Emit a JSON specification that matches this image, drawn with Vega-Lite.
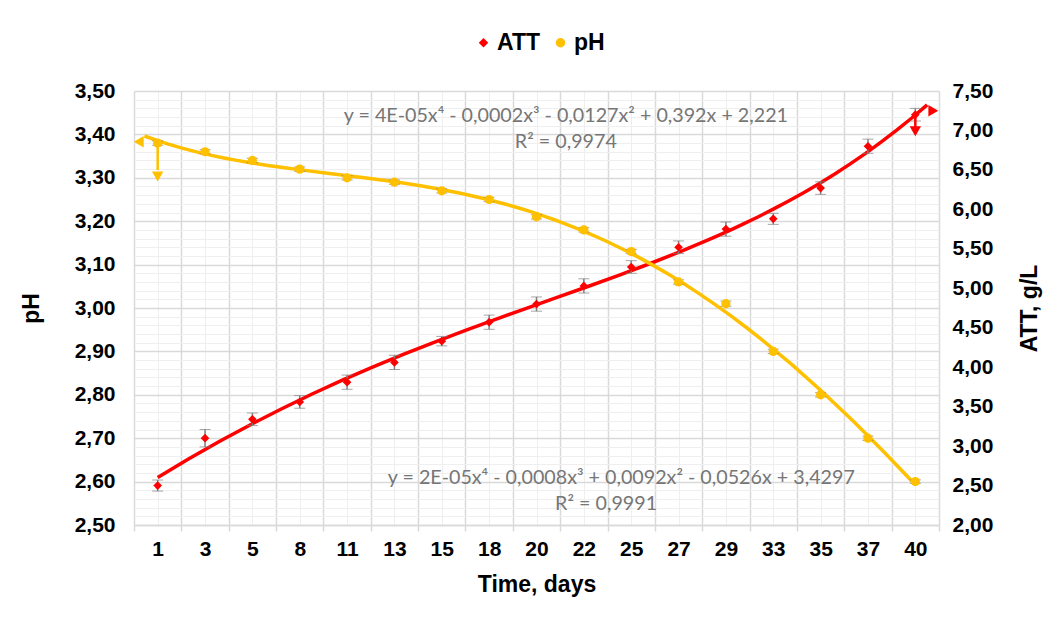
{
  "$schema": "https://vega.github.io/schema/vega-lite/v6.json",
  "width": 805,
  "height": 434,
  "autosize": {"type": "none"},
  "padding": {"left": 134, "top": 91, "right": 117, "bottom": 98},
  "background": "white",
  "config": {"view": {"stroke": null}, "font": "Liberation Sans"},
  "datasets": {
    "obs": [
      {"i": 1, "day": "1", "s": "ATT", "v": 2.50, "e": 0.07},
      {"i": 2, "day": "3", "s": "ATT", "v": 3.10, "e": 0.11},
      {"i": 3, "day": "5", "s": "ATT", "v": 3.34, "e": 0.08},
      {"i": 4, "day": "8", "s": "ATT", "v": 3.56, "e": 0.08},
      {"i": 5, "day": "11", "s": "ATT", "v": 3.81, "e": 0.09},
      {"i": 6, "day": "13", "s": "ATT", "v": 4.06, "e": 0.09},
      {"i": 7, "day": "15", "s": "ATT", "v": 4.33, "e": 0.06},
      {"i": 8, "day": "18", "s": "ATT", "v": 4.57, "e": 0.09},
      {"i": 9, "day": "20", "s": "ATT", "v": 4.80, "e": 0.09},
      {"i": 10, "day": "22", "s": "ATT", "v": 5.03, "e": 0.09},
      {"i": 11, "day": "25", "s": "ATT", "v": 5.27, "e": 0.08},
      {"i": 12, "day": "27", "s": "ATT", "v": 5.52, "e": 0.08},
      {"i": 13, "day": "29", "s": "ATT", "v": 5.75, "e": 0.09},
      {"i": 14, "day": "33", "s": "ATT", "v": 5.88, "e": 0.07},
      {"i": 15, "day": "35", "s": "ATT", "v": 6.27, "e": 0.08},
      {"i": 16, "day": "37", "s": "ATT", "v": 6.80, "e": 0.09},
      {"i": 17, "day": "40", "s": "ATT", "v": 7.20, "e": 0.08},
      {"i": 1, "day": "1", "s": "pH", "v": 3.38, "e": 0.005},
      {"i": 2, "day": "3", "s": "pH", "v": 3.36, "e": 0.005},
      {"i": 3, "day": "5", "s": "pH", "v": 3.34, "e": 0.005},
      {"i": 4, "day": "8", "s": "pH", "v": 3.32, "e": 0.005},
      {"i": 5, "day": "11", "s": "pH", "v": 3.30, "e": 0.005},
      {"i": 6, "day": "13", "s": "pH", "v": 3.29, "e": 0.005},
      {"i": 7, "day": "15", "s": "pH", "v": 3.27, "e": 0.005},
      {"i": 8, "day": "18", "s": "pH", "v": 3.25, "e": 0.005},
      {"i": 9, "day": "20", "s": "pH", "v": 3.21, "e": 0.005},
      {"i": 10, "day": "22", "s": "pH", "v": 3.18, "e": 0.005},
      {"i": 11, "day": "25", "s": "pH", "v": 3.13, "e": 0.005},
      {"i": 12, "day": "27", "s": "pH", "v": 3.06, "e": 0.005},
      {"i": 13, "day": "29", "s": "pH", "v": 3.01, "e": 0.006},
      {"i": 14, "day": "33", "s": "pH", "v": 2.90, "e": 0.005},
      {"i": 15, "day": "35", "s": "pH", "v": 2.80, "e": 0.005},
      {"i": 16, "day": "37", "s": "pH", "v": 2.70, "e": 0.005},
      {"i": 17, "day": "40", "s": "pH", "v": 2.60, "e": 0.004}
    ],
    "arrows": [
      {"g": "ATT", "k": "stem", "i": 17, "v": 7.2, "v2": 7.04},
      {"g": "ATT", "k": "down", "i": 17, "v": 6.99},
      {"g": "ATT", "k": "side", "i": 17.38, "v": 7.25},
      {"g": "pH", "k": "stem", "i": 1, "v": 3.38, "v2": 3.318},
      {"g": "pH", "k": "down", "i": 1, "v": 3.303},
      {"g": "pH", "k": "side", "i": 0.6, "v": 3.383}
    ],
    "notes": [
      {"t": "y = 4E-05x⁴ - 0,0002x³ - 0,0127x² + 0,392x + 2,221", "i": 9.62, "v": 3.442},
      {"t": "R² = 0,9974", "i": 9.62, "v": 3.382},
      {"t": "y = 2E-05x⁴ - 0,0008x³ + 0,0092x² - 0,0526x + 3,4297", "i": 10.79, "v": 2.608},
      {"t": "R² = 0,9991", "i": 10.47, "v": 2.548}
    ]
  },
  "data": {"name": "obs"},
  "layer": [
    {
      "resolve": {"axis": {"x": "independent", "y": "independent"}},
      "layer": [
        {
          "transform": [
            {"filter": "datum.s === 'ATT'"},
            {"regression": "v", "on": "i", "method": "poly", "order": 4, "extent": [1, 17.25]}
          ],
          "mark": {"type": "line", "color": "#FF0000", "strokeWidth": 3.5},
          "encoding": {
            "x": {
              "field": "i", "type": "quantitative",
              "scale": {"domain": [0.5, 17.5], "nice": false, "zero": false},
              "axis": {
                "orient": "bottom",
                "values": [0.5, 1, 1.5, 2, 2.5, 3, 3.5, 4, 4.5, 5, 5.5, 6, 6.5, 7, 7.5, 8, 8.5, 9, 9.5, 10, 10.5, 11, 11.5, 12, 12.5, 13, 13.5, 14, 14.5, 15, 15.5, 16, 16.5, 17, 17.5],
                "grid": true,
                "gridColor": {"condition": {"test": "datum.value % 1 === 0", "value": "#EFEFEF"}, "value": "#D9D9D9"},
                "gridWidth": {"condition": {"test": "datum.value % 1 === 0", "value": 1}, "value": 1.5},
                "domain": true, "domainColor": "#D9D9D9", "domainWidth": 1.5,
                "ticks": true, "tickColor": "#D9D9D9", "tickSize": 6, "tickWidth": 1.5,
                "tickOpacity": {"condition": {"test": "datum.value % 1 === 0", "value": 0}, "value": 1},
                "labelExpr": "datum.value % 1 === 0 ? ['1','3','5','8','11','13','15','18','20','22','25','27','29','33','35','37','40'][datum.value - 1] : ''",
                "labelOverlap": false, "labelFlush": false, "labelBound": false,
                "labelFontSize": 21, "labelFontWeight": "bold", "labelColor": "#000000", "labelPadding": 7,
                "title": "Time, days", "titleFontSize": 23, "titleFontWeight": "bold", "titleColor": "#000000", "titlePadding": 14
              }
            },
            "y": {
              "field": "v", "type": "quantitative",
              "scale": {"domain": [2, 7.5], "nice": false, "zero": false},
              "axis": {
                "orient": "right",
                "values": [2, 2.5, 3, 3.5, 4, 4.5, 5, 5.5, 6, 6.5, 7, 7.5],
                "grid": false, "ticks": false, "domain": false,
                "labelExpr": "replace(format(datum.value, '.2f'), '.', ',')",
                "labelFontSize": 21, "labelFontWeight": "bold", "labelColor": "#000000",
                "labelPadding": 13, "labelOverlap": false, "labelFlush": false,
                "title": "ATT, g/L", "titleFontSize": 23, "titleFontWeight": "bold", "titleColor": "#000000",
                "titleAngle": 270, "titlePadding": 49
              }
            }
          }
        },
        {
          "transform": [{"filter": "datum.s === 'ATT'"}],
          "mark": {"type": "errorbar", "ticks": {"size": 11, "color": "#7F7F7F", "strokeWidth": 1.5}, "rule": {"color": "#7F7F7F", "strokeWidth": 1.5}},
          "encoding": {
            "x": {"field": "i", "type": "quantitative", "axis": null},
            "y": {"field": "v", "type": "quantitative", "axis": null},
            "yError": {"field": "e"}
          }
        },
        {
          "data": {"name": "arrows"},
          "transform": [{"filter": "datum.g === 'ATT' && datum.k === 'stem'"}],
          "mark": {"type": "rule", "color": "#FF0000", "strokeWidth": 2.5},
          "encoding": {
            "x": {"field": "i", "type": "quantitative", "axis": null},
            "y": {"field": "v", "type": "quantitative", "axis": null},
            "y2": {"field": "v2"}
          }
        },
        {
          "data": {"name": "arrows"},
          "transform": [{"filter": "datum.g === 'ATT' && datum.k === 'down'"}],
          "mark": {"type": "point", "shape": "triangle-down", "filled": true, "opacity": 1, "color": "#FF0000", "size": 130},
          "encoding": {
            "x": {"field": "i", "type": "quantitative", "axis": null},
            "y": {"field": "v", "type": "quantitative", "axis": null}
          }
        },
        {
          "data": {"name": "arrows"},
          "transform": [{"filter": "datum.g === 'ATT' && datum.k === 'side'"}],
          "mark": {"type": "point", "shape": "triangle-right", "filled": true, "opacity": 1, "color": "#FF0000", "size": 130},
          "encoding": {
            "x": {"field": "i", "type": "quantitative", "axis": null},
            "y": {"field": "v", "type": "quantitative", "axis": null}
          }
        },
        {
          "transform": [{"filter": "datum.s === 'ATT'"}],
          "mark": {"type": "point", "filled": true, "opacity": 1, "size": 75},
          "encoding": {
            "x": {"field": "i", "type": "quantitative", "axis": null},
            "y": {"field": "v", "type": "quantitative", "axis": null},
            "color": {"field": "s", "type": "nominal", "scale": {"domain": ["ATT", "pH"], "range": ["#FF0000", "#FFC000"]},
              "legend": {"title": null, "orient": "none", "direction": "horizontal", "legendX": 338, "legendY": -60, "labelFontSize": 23, "labelFontWeight": "bold", "labelColor": "#000000", "labelOffset": 2, "symbolSize": 90, "columnPadding": 8, "padding": 0}},
            "shape": {"field": "s", "type": "nominal", "scale": {"domain": ["ATT", "pH"], "range": ["diamond", "circle"]},
              "legend": {"title": null, "orient": "none", "direction": "horizontal", "legendX": 338, "legendY": -60, "labelFontSize": 23, "labelFontWeight": "bold", "labelColor": "#000000", "labelOffset": 2, "symbolSize": 90, "columnPadding": 8, "padding": 0}}
          }
        }
      ]
    },
    {
      "resolve": {"axis": {"x": "independent", "y": "independent"}},
      "layer": [
        {
          "transform": [
            {"filter": "datum.s === 'pH'"},
            {"regression": "v", "on": "i", "method": "poly", "order": 4, "extent": [0.72, 17]}
          ],
          "mark": {"type": "line", "color": "#FFC000", "strokeWidth": 3.5},
          "encoding": {
            "x": {"field": "i", "type": "quantitative", "axis": null},
            "y": {
              "field": "v", "type": "quantitative",
              "scale": {"domain": [2.5, 3.5], "nice": false, "zero": false},
              "axis": {
                "orient": "left",
                "values": [2.5, 2.52, 2.54, 2.56, 2.58, 2.6, 2.62, 2.64, 2.66, 2.68, 2.7, 2.72, 2.74, 2.76, 2.78, 2.8, 2.82, 2.84, 2.86, 2.88, 2.9, 2.92, 2.94, 2.96, 2.98, 3, 3.02, 3.04, 3.06, 3.08, 3.1, 3.12, 3.14, 3.16, 3.18, 3.2, 3.22, 3.24, 3.26, 3.28, 3.3, 3.32, 3.34, 3.36, 3.38, 3.4, 3.42, 3.44, 3.46, 3.48, 3.5],
                "grid": true,
                "gridColor": {"condition": {"test": "abs(datum.value * 10 - round(datum.value * 10)) < 0.001", "value": "#D9D9D9"}, "value": "#EFEFEF"},
                "gridWidth": {"condition": {"test": "abs(datum.value * 10 - round(datum.value * 10)) < 0.001", "value": 1.5}, "value": 1},
                "ticks": false, "domain": false,
                "labelExpr": "abs(datum.value * 10 - round(datum.value * 10)) < 0.001 ? replace(format(datum.value, '.2f'), '.', ',') : ''",
                "labelOverlap": false, "labelFlush": false,
                "labelFontSize": 21, "labelFontWeight": "bold", "labelColor": "#000000", "labelPadding": 19,
                "title": "pH", "titleFontSize": 23, "titleFontWeight": "bold", "titleColor": "#000000", "titlePadding": 31
              }
            }
          }
        },
        {
          "transform": [{"filter": "datum.s === 'pH'"}],
          "mark": {"type": "errorbar", "ticks": {"size": 11, "color": "#7F7F7F", "strokeWidth": 1.5}, "rule": {"color": "#7F7F7F", "strokeWidth": 1.5}},
          "encoding": {
            "x": {"field": "i", "type": "quantitative", "axis": null},
            "y": {"field": "v", "type": "quantitative", "axis": null},
            "yError": {"field": "e"}
          }
        },
        {
          "data": {"name": "arrows"},
          "transform": [{"filter": "datum.g === 'pH' && datum.k === 'stem'"}],
          "mark": {"type": "rule", "color": "#FFC000", "strokeWidth": 2.5},
          "encoding": {
            "x": {"field": "i", "type": "quantitative", "axis": null},
            "y": {"field": "v", "type": "quantitative", "axis": null},
            "y2": {"field": "v2"}
          }
        },
        {
          "data": {"name": "arrows"},
          "transform": [{"filter": "datum.g === 'pH' && datum.k === 'down'"}],
          "mark": {"type": "point", "shape": "triangle-down", "filled": true, "opacity": 1, "color": "#FFC000", "size": 130},
          "encoding": {
            "x": {"field": "i", "type": "quantitative", "axis": null},
            "y": {"field": "v", "type": "quantitative", "axis": null}
          }
        },
        {
          "data": {"name": "arrows"},
          "transform": [{"filter": "datum.g === 'pH' && datum.k === 'side'"}],
          "mark": {"type": "point", "shape": "triangle-left", "filled": true, "opacity": 1, "color": "#FFC000", "size": 130},
          "encoding": {
            "x": {"field": "i", "type": "quantitative", "axis": null},
            "y": {"field": "v", "type": "quantitative", "axis": null}
          }
        },
        {
          "transform": [{"filter": "datum.s === 'pH'"}],
          "mark": {"type": "point", "filled": true, "opacity": 1, "size": 85},
          "encoding": {
            "x": {"field": "i", "type": "quantitative", "axis": null},
            "y": {"field": "v", "type": "quantitative", "axis": null},
            "color": {"field": "s", "type": "nominal", "scale": {"domain": ["ATT", "pH"], "range": ["#FF0000", "#FFC000"]},
              "legend": {"title": null, "orient": "none", "direction": "horizontal", "legendX": 338, "legendY": -60, "labelFontSize": 23, "labelFontWeight": "bold", "labelColor": "#000000", "labelOffset": 2, "symbolSize": 90, "columnPadding": 8, "padding": 0}},
            "shape": {"field": "s", "type": "nominal", "scale": {"domain": ["ATT", "pH"], "range": ["diamond", "circle"]},
              "legend": {"title": null, "orient": "none", "direction": "horizontal", "legendX": 338, "legendY": -60, "labelFontSize": 23, "labelFontWeight": "bold", "labelColor": "#000000", "labelOffset": 2, "symbolSize": 90, "columnPadding": 8, "padding": 0}}
          }
        },
        {
          "data": {"name": "notes"},
          "mark": {"type": "text", "font": "Lato", "fontSize": 19.7, "color": "#767676", "align": "center", "baseline": "middle"},
          "encoding": {
            "x": {"field": "i", "type": "quantitative", "axis": null},
            "y": {"field": "v", "type": "quantitative", "axis": null},
            "text": {"field": "t"}
          }
        }
      ]
    }
  ],
  "resolve": {"scale": {"y": "independent"}, "axis": {"x": "independent", "y": "independent"}}
}
